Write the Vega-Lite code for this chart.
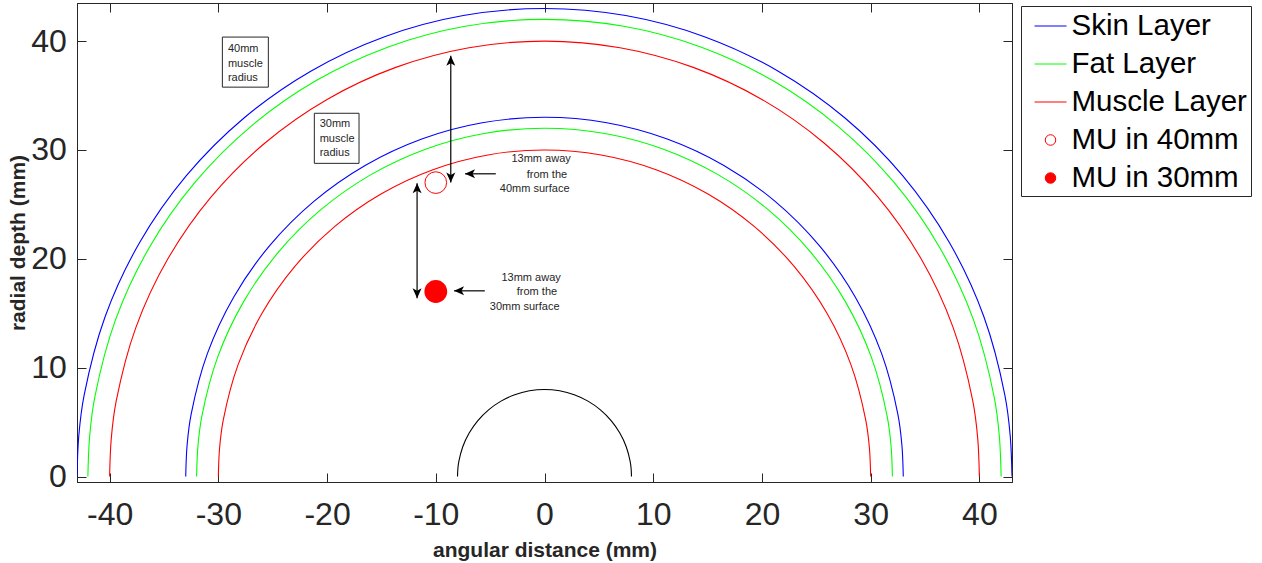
{
  "$schema": "https://vega.github.io/schema/vega-lite/v6.json",
  "width": 935,
  "height": 479,
  "autosize": {"type": "none"},
  "padding": {"left": 77, "top": 3, "right": 250, "bottom": 81},
  "background": "white",
  "datasets": {
    "rings": [
      {"ring":"s43","layer":"Skin Layer","i":0,"x":-43,"y":0},{"ring":"s43","layer":"Skin Layer","i":1,"x":-42.836,"y":3.748},{"ring":"s43","layer":"Skin Layer","i":2,"x":-42.347,"y":7.467},{"ring":"s43","layer":"Skin Layer","i":3,"x":-40.407,"y":14.707},{"ring":"s43","layer":"Skin Layer","i":4,"x":-37.239,"y":21.5},{"ring":"s43","layer":"Skin Layer","i":5,"x":-32.94,"y":27.64},{"ring":"s43","layer":"Skin Layer","i":6,"x":-27.64,"y":32.94},{"ring":"s43","layer":"Skin Layer","i":7,"x":-21.5,"y":37.239},{"ring":"s43","layer":"Skin Layer","i":8,"x":-14.707,"y":40.407},{"ring":"s43","layer":"Skin Layer","i":9,"x":-7.467,"y":42.347},{"ring":"s43","layer":"Skin Layer","i":10,"x":0,"y":43},{"ring":"s43","layer":"Skin Layer","i":11,"x":7.467,"y":42.347},{"ring":"s43","layer":"Skin Layer","i":12,"x":14.707,"y":40.407},{"ring":"s43","layer":"Skin Layer","i":13,"x":21.5,"y":37.239},{"ring":"s43","layer":"Skin Layer","i":14,"x":27.64,"y":32.94},{"ring":"s43","layer":"Skin Layer","i":15,"x":32.94,"y":27.64},{"ring":"s43","layer":"Skin Layer","i":16,"x":37.239,"y":21.5},{"ring":"s43","layer":"Skin Layer","i":17,"x":40.407,"y":14.707},{"ring":"s43","layer":"Skin Layer","i":18,"x":42.347,"y":7.467},{"ring":"s43","layer":"Skin Layer","i":19,"x":42.836,"y":3.748},{"ring":"s43","layer":"Skin Layer","i":20,"x":43,"y":0},
      {"ring":"f42","layer":"Fat Layer","i":0,"x":-42,"y":0},{"ring":"f42","layer":"Fat Layer","i":1,"x":-41.84,"y":3.661},{"ring":"f42","layer":"Fat Layer","i":2,"x":-41.362,"y":7.293},{"ring":"f42","layer":"Fat Layer","i":3,"x":-39.467,"y":14.365},{"ring":"f42","layer":"Fat Layer","i":4,"x":-36.373,"y":21},{"ring":"f42","layer":"Fat Layer","i":5,"x":-32.174,"y":26.997},{"ring":"f42","layer":"Fat Layer","i":6,"x":-26.997,"y":32.174},{"ring":"f42","layer":"Fat Layer","i":7,"x":-21,"y":36.373},{"ring":"f42","layer":"Fat Layer","i":8,"x":-14.365,"y":39.467},{"ring":"f42","layer":"Fat Layer","i":9,"x":-7.293,"y":41.362},{"ring":"f42","layer":"Fat Layer","i":10,"x":0,"y":42},{"ring":"f42","layer":"Fat Layer","i":11,"x":7.293,"y":41.362},{"ring":"f42","layer":"Fat Layer","i":12,"x":14.365,"y":39.467},{"ring":"f42","layer":"Fat Layer","i":13,"x":21,"y":36.373},{"ring":"f42","layer":"Fat Layer","i":14,"x":26.997,"y":32.174},{"ring":"f42","layer":"Fat Layer","i":15,"x":32.174,"y":26.997},{"ring":"f42","layer":"Fat Layer","i":16,"x":36.373,"y":21},{"ring":"f42","layer":"Fat Layer","i":17,"x":39.467,"y":14.365},{"ring":"f42","layer":"Fat Layer","i":18,"x":41.362,"y":7.293},{"ring":"f42","layer":"Fat Layer","i":19,"x":41.84,"y":3.661},{"ring":"f42","layer":"Fat Layer","i":20,"x":42,"y":0},
      {"ring":"m40","layer":"Muscle Layer","i":0,"x":-40,"y":0},{"ring":"m40","layer":"Muscle Layer","i":1,"x":-39.848,"y":3.486},{"ring":"m40","layer":"Muscle Layer","i":2,"x":-39.392,"y":6.946},{"ring":"m40","layer":"Muscle Layer","i":3,"x":-37.588,"y":13.681},{"ring":"m40","layer":"Muscle Layer","i":4,"x":-34.641,"y":20},{"ring":"m40","layer":"Muscle Layer","i":5,"x":-30.642,"y":25.712},{"ring":"m40","layer":"Muscle Layer","i":6,"x":-25.712,"y":30.642},{"ring":"m40","layer":"Muscle Layer","i":7,"x":-20,"y":34.641},{"ring":"m40","layer":"Muscle Layer","i":8,"x":-13.681,"y":37.588},{"ring":"m40","layer":"Muscle Layer","i":9,"x":-6.946,"y":39.392},{"ring":"m40","layer":"Muscle Layer","i":10,"x":0,"y":40},{"ring":"m40","layer":"Muscle Layer","i":11,"x":6.946,"y":39.392},{"ring":"m40","layer":"Muscle Layer","i":12,"x":13.681,"y":37.588},{"ring":"m40","layer":"Muscle Layer","i":13,"x":20,"y":34.641},{"ring":"m40","layer":"Muscle Layer","i":14,"x":25.712,"y":30.642},{"ring":"m40","layer":"Muscle Layer","i":15,"x":30.642,"y":25.712},{"ring":"m40","layer":"Muscle Layer","i":16,"x":34.641,"y":20},{"ring":"m40","layer":"Muscle Layer","i":17,"x":37.588,"y":13.681},{"ring":"m40","layer":"Muscle Layer","i":18,"x":39.392,"y":6.946},{"ring":"m40","layer":"Muscle Layer","i":19,"x":39.848,"y":3.486},{"ring":"m40","layer":"Muscle Layer","i":20,"x":40,"y":0},
      {"ring":"s33","layer":"Skin Layer","i":0,"x":-33,"y":0},{"ring":"s33","layer":"Skin Layer","i":1,"x":-32.874,"y":2.876},{"ring":"s33","layer":"Skin Layer","i":2,"x":-32.499,"y":5.73},{"ring":"s33","layer":"Skin Layer","i":3,"x":-31.01,"y":11.287},{"ring":"s33","layer":"Skin Layer","i":4,"x":-28.579,"y":16.5},{"ring":"s33","layer":"Skin Layer","i":5,"x":-25.279,"y":21.212},{"ring":"s33","layer":"Skin Layer","i":6,"x":-21.212,"y":25.279},{"ring":"s33","layer":"Skin Layer","i":7,"x":-16.5,"y":28.579},{"ring":"s33","layer":"Skin Layer","i":8,"x":-11.287,"y":31.01},{"ring":"s33","layer":"Skin Layer","i":9,"x":-5.73,"y":32.499},{"ring":"s33","layer":"Skin Layer","i":10,"x":0,"y":33},{"ring":"s33","layer":"Skin Layer","i":11,"x":5.73,"y":32.499},{"ring":"s33","layer":"Skin Layer","i":12,"x":11.287,"y":31.01},{"ring":"s33","layer":"Skin Layer","i":13,"x":16.5,"y":28.579},{"ring":"s33","layer":"Skin Layer","i":14,"x":21.212,"y":25.279},{"ring":"s33","layer":"Skin Layer","i":15,"x":25.279,"y":21.212},{"ring":"s33","layer":"Skin Layer","i":16,"x":28.579,"y":16.5},{"ring":"s33","layer":"Skin Layer","i":17,"x":31.01,"y":11.287},{"ring":"s33","layer":"Skin Layer","i":18,"x":32.499,"y":5.73},{"ring":"s33","layer":"Skin Layer","i":19,"x":32.874,"y":2.876},{"ring":"s33","layer":"Skin Layer","i":20,"x":33,"y":0},
      {"ring":"f32","layer":"Fat Layer","i":0,"x":-32,"y":0},{"ring":"f32","layer":"Fat Layer","i":1,"x":-31.878,"y":2.789},{"ring":"f32","layer":"Fat Layer","i":2,"x":-31.514,"y":5.557},{"ring":"f32","layer":"Fat Layer","i":3,"x":-30.07,"y":10.945},{"ring":"f32","layer":"Fat Layer","i":4,"x":-27.713,"y":16},{"ring":"f32","layer":"Fat Layer","i":5,"x":-24.513,"y":20.569},{"ring":"f32","layer":"Fat Layer","i":6,"x":-20.569,"y":24.513},{"ring":"f32","layer":"Fat Layer","i":7,"x":-16,"y":27.713},{"ring":"f32","layer":"Fat Layer","i":8,"x":-10.945,"y":30.07},{"ring":"f32","layer":"Fat Layer","i":9,"x":-5.557,"y":31.514},{"ring":"f32","layer":"Fat Layer","i":10,"x":0,"y":32},{"ring":"f32","layer":"Fat Layer","i":11,"x":5.557,"y":31.514},{"ring":"f32","layer":"Fat Layer","i":12,"x":10.945,"y":30.07},{"ring":"f32","layer":"Fat Layer","i":13,"x":16,"y":27.713},{"ring":"f32","layer":"Fat Layer","i":14,"x":20.569,"y":24.513},{"ring":"f32","layer":"Fat Layer","i":15,"x":24.513,"y":20.569},{"ring":"f32","layer":"Fat Layer","i":16,"x":27.713,"y":16},{"ring":"f32","layer":"Fat Layer","i":17,"x":30.07,"y":10.945},{"ring":"f32","layer":"Fat Layer","i":18,"x":31.514,"y":5.557},{"ring":"f32","layer":"Fat Layer","i":19,"x":31.878,"y":2.789},{"ring":"f32","layer":"Fat Layer","i":20,"x":32,"y":0},
      {"ring":"m30","layer":"Muscle Layer","i":0,"x":-30,"y":0},{"ring":"m30","layer":"Muscle Layer","i":1,"x":-29.886,"y":2.615},{"ring":"m30","layer":"Muscle Layer","i":2,"x":-29.544,"y":5.21},{"ring":"m30","layer":"Muscle Layer","i":3,"x":-28.191,"y":10.261},{"ring":"m30","layer":"Muscle Layer","i":4,"x":-25.981,"y":15},{"ring":"m30","layer":"Muscle Layer","i":5,"x":-22.981,"y":19.284},{"ring":"m30","layer":"Muscle Layer","i":6,"x":-19.284,"y":22.981},{"ring":"m30","layer":"Muscle Layer","i":7,"x":-15,"y":25.981},{"ring":"m30","layer":"Muscle Layer","i":8,"x":-10.261,"y":28.191},{"ring":"m30","layer":"Muscle Layer","i":9,"x":-5.21,"y":29.544},{"ring":"m30","layer":"Muscle Layer","i":10,"x":0,"y":30},{"ring":"m30","layer":"Muscle Layer","i":11,"x":5.21,"y":29.544},{"ring":"m30","layer":"Muscle Layer","i":12,"x":10.261,"y":28.191},{"ring":"m30","layer":"Muscle Layer","i":13,"x":15,"y":25.981},{"ring":"m30","layer":"Muscle Layer","i":14,"x":19.284,"y":22.981},{"ring":"m30","layer":"Muscle Layer","i":15,"x":22.981,"y":19.284},{"ring":"m30","layer":"Muscle Layer","i":16,"x":25.981,"y":15},{"ring":"m30","layer":"Muscle Layer","i":17,"x":28.191,"y":10.261},{"ring":"m30","layer":"Muscle Layer","i":18,"x":29.544,"y":5.21},{"ring":"m30","layer":"Muscle Layer","i":19,"x":29.886,"y":2.615},{"ring":"m30","layer":"Muscle Layer","i":20,"x":30,"y":0}
    ],
    "bone": [
      {"i":0,"x":-8,"y":0},{"i":1,"x":-7.97,"y":0.697},{"i":2,"x":-7.878,"y":1.389},{"i":3,"x":-7.518,"y":2.736},{"i":4,"x":-6.928,"y":4},{"i":5,"x":-6.128,"y":5.142},{"i":6,"x":-5.142,"y":6.128},{"i":7,"x":-4,"y":6.928},{"i":8,"x":-2.736,"y":7.518},{"i":9,"x":-1.389,"y":7.878},{"i":10,"x":0,"y":8},{"i":11,"x":1.389,"y":7.878},{"i":12,"x":2.736,"y":7.518},{"i":13,"x":4,"y":6.928},{"i":14,"x":5.142,"y":6.128},{"i":15,"x":6.128,"y":5.142},{"i":16,"x":6.928,"y":4},{"i":17,"x":7.518,"y":2.736},{"i":18,"x":7.878,"y":1.389},{"i":19,"x":7.97,"y":0.697},{"i":20,"x":8,"y":0}
    ],
    "mu": [
      {"layer":"MU in 40mm","x":-10,"y":27},
      {"layer":"MU in 30mm","x":-10,"y":17}
    ],
    "boxes": [
      {"x":-29.63,"x2":-25.4,"y":40.37,"y2":35.77},
      {"x":-21.17,"x2":-17.06,"y":33.37,"y2":28.77}
    ],
    "notes": [
      {"text":"40mm","x":-29.12,"y":39.28},
      {"text":"muscle","x":-29.12,"y":37.9},
      {"text":"radius","x":-29.12,"y":36.63},
      {"text":"30mm","x":-20.68,"y":32.4},
      {"text":"muscle","x":-20.68,"y":31.0},
      {"text":"radius","x":-20.68,"y":29.71},
      {"text":"13mm away","x":-3.04,"y":29.16},
      {"text":"from the","x":-1.63,"y":27.72},
      {"text":"40mm surface","x":-4.11,"y":26.43},
      {"text":"13mm away","x":-3.96,"y":18.28},
      {"text":"from the","x":-2.55,"y":16.97},
      {"text":"30mm surface","x":-5.03,"y":15.62}
    ],
    "shafts": [
      {"x":-8.62,"y":38.65,"x2":-8.62,"y2":27.01},
      {"x":-4.48,"y":27.81,"x2":-7.31,"y2":27.81},
      {"x":-11.72,"y":26.95,"x2":-11.72,"y2":16.39},
      {"x":-5.49,"y":17.06,"x2":-8.32,"y2":17.06}
    ],
    "heads": [
      {"dir":"up","x":-8.62,"y":38.65},
      {"dir":"down","x":-8.62,"y":27.01},
      {"dir":"left","x":-7.31,"y":27.81},
      {"dir":"up","x":-11.72,"y":26.95},
      {"dir":"down","x":-11.72,"y":16.39},
      {"dir":"left","x":-8.32,"y":17.06}
    ]
  },
  "encoding": {
    "x": {"field": "x", "type": "quantitative", "scale": {"domain": [-43, 43], "nice": false, "zero": false}, "axis": null},
    "y": {"field": "y", "type": "quantitative", "scale": {"domain": [-0.5, 43.5], "nice": false, "zero": false}, "axis": null}
  },
  "layer": [
    {
      "data": {"name": "rings"},
      "mark": {"type": "line", "interpolate": "catmull-rom", "strokeWidth": 1.1, "clip": true},
      "encoding": {
        "x": {"field": "x", "type": "quantitative", "scale": {"domain": [-43, 43], "nice": false, "zero": false},
          "axis": {"orient": "bottom", "values": [-40, -30, -20, -10, 0, 10, 20, 30, 40], "title": "angular distance (mm)", "labelExpr": "'' + datum.value", "tickSize": -9, "labelPadding": 26, "titlePadding": 9}},
        "y": {"field": "y", "type": "quantitative", "scale": {"domain": [-0.5, 43.5], "nice": false, "zero": false},
          "axis": {"orient": "left", "values": [0, 10, 20, 30, 40], "title": "radial depth (mm)", "labelExpr": "'' + datum.value", "tickSize": -9, "labelPadding": 19.6, "titlePadding": 2}},
        "color": {"field": "layer", "type": "nominal",
          "scale": {"domain": ["Skin Layer", "Fat Layer", "Muscle Layer", "MU in 40mm", "MU in 30mm"], "range": ["#0000ff", "#00ff00", "#ff0000", "#ff0000", "#ff0000"]},
          "legend": {
            "orient": "none", "legendX": 944, "legendY": 3, "title": null,
            "padding": 3.5, "rowPadding": 7, "symbolOffset": 9.5, "labelOffset": 4.5,
            "symbolSize": 841, "symbolStrokeWidth": 1, "labelFontSize": 29.5, "labelFont": "Liberation Sans",
            "labelColor": "#000000", "labelLimit": 400,
            "strokeColor": "#262626", "fillColor": "#ffffff", "cornerRadius": 0,
            "encode": {"symbols": {"update": {
              "shape": {"signal": "indexof(['MU in 40mm','MU in 30mm'], datum.value) >= 0 ? 'circle' : 'stroke'"},
              "size": {"signal": "indexof(['MU in 40mm','MU in 30mm'], datum.value) >= 0 ? 110 : 1024"},
              "fill": {"signal": "datum.value === 'MU in 30mm' ? '#ff0000' : 'transparent'"},
              "fillOpacity": {"signal": "datum.value === 'MU in 30mm' ? 1 : 0"},
              "stroke": {"signal": "datum.value === 'Skin Layer' ? '#0000ff' : (datum.value === 'Fat Layer' ? '#00ff00' : '#ff0000')"},
              "strokeWidth": {"value": 1},
              "strokeOpacity": {"value": 1},
              "opacity": {"value": 1}
            }}}
          }},
        "detail": {"field": "ring", "type": "nominal"},
        "order": {"field": "i", "type": "quantitative"}
      }
    },
    {
      "data": {"name": "bone"},
      "mark": {"type": "line", "interpolate": "catmull-rom", "strokeWidth": 1.1, "color": "#000000"},
      "encoding": {
        "x": {"field": "x", "type": "quantitative", "scale": {"domain": [-43, 43], "nice": false, "zero": false},
          "axis": {"orient": "top", "values": [-40, -30, -20, -10, 0, 10, 20, 30, 40], "labels": false, "title": null, "tickSize": -9}},
        "y": {"field": "y", "type": "quantitative", "scale": {"domain": [-0.5, 43.5], "nice": false, "zero": false},
          "axis": {"orient": "right", "values": [0, 10, 20, 30, 40], "labels": false, "title": null, "tickSize": -9}},
        "order": {"field": "i", "type": "quantitative"}
      }
    },
    {
      "data": {"name": "boxes"},
      "mark": {"type": "rect", "fill": "transparent", "stroke": "#262626", "strokeWidth": 1},
      "encoding": {
        "x2": {"field": "x2"},
        "y2": {"field": "y2"}
      }
    },
    {
      "data": {"name": "notes"},
      "mark": {"type": "text", "align": "left", "baseline": "middle", "font": "Liberation Sans", "fontSize": 11, "color": "#262626"},
      "encoding": {
        "text": {"field": "text", "type": "nominal"}
      }
    },
    {
      "data": {"name": "shafts"},
      "mark": {"type": "rule", "color": "#000000", "strokeWidth": 1.2},
      "encoding": {
        "x2": {"field": "x2"},
        "y2": {"field": "y2"}
      }
    },
    {
      "data": {"name": "heads"},
      "mark": {"type": "point", "filled": true, "color": "#000000", "opacity": 1, "size": 100, "strokeWidth": 0},
      "encoding": {
        "shape": {"field": "dir", "type": "nominal", "legend": null,
          "scale": {"domain": ["up", "down", "left"], "range": ["M0,0L0.9,2L0,1.5L-0.9,2Z", "M0,0L0.9,-2L0,-1.5L-0.9,-2Z", "M0,0L2,0.9L1.5,0L2,-0.9Z"]}}
      }
    },
    {
      "data": {"name": "mu"},
      "transform": [{"filter": "datum.layer === 'MU in 40mm'"}],
      "mark": {"type": "point", "shape": "circle", "filled": false, "size": 470, "strokeWidth": 1, "opacity": 1},
      "encoding": {
        "color": {"field": "layer", "type": "nominal"}
      }
    },
    {
      "data": {"name": "mu"},
      "transform": [{"filter": "datum.layer === 'MU in 30mm'"}],
      "mark": {"type": "point", "shape": "circle", "filled": true, "size": 520, "strokeWidth": 0, "opacity": 1},
      "encoding": {
        "color": {"field": "layer", "type": "nominal"}
      }
    }
  ],
  "resolve": {"axis": {"x": "independent", "y": "independent"}},
  "config": {
    "view": {"stroke": "#262626", "strokeWidth": 1},
    "axis": {
      "grid": false, "domainColor": "#262626", "domainWidth": 1, "tickColor": "#262626", "tickWidth": 1,
      "labelColor": "#262626", "labelFont": "Liberation Sans", "labelFontSize": 32,
      "titleFont": "Liberation Sans", "titleFontSize": 21, "titleFontWeight": "bold", "titleColor": "#262626"
    }
  }
}
